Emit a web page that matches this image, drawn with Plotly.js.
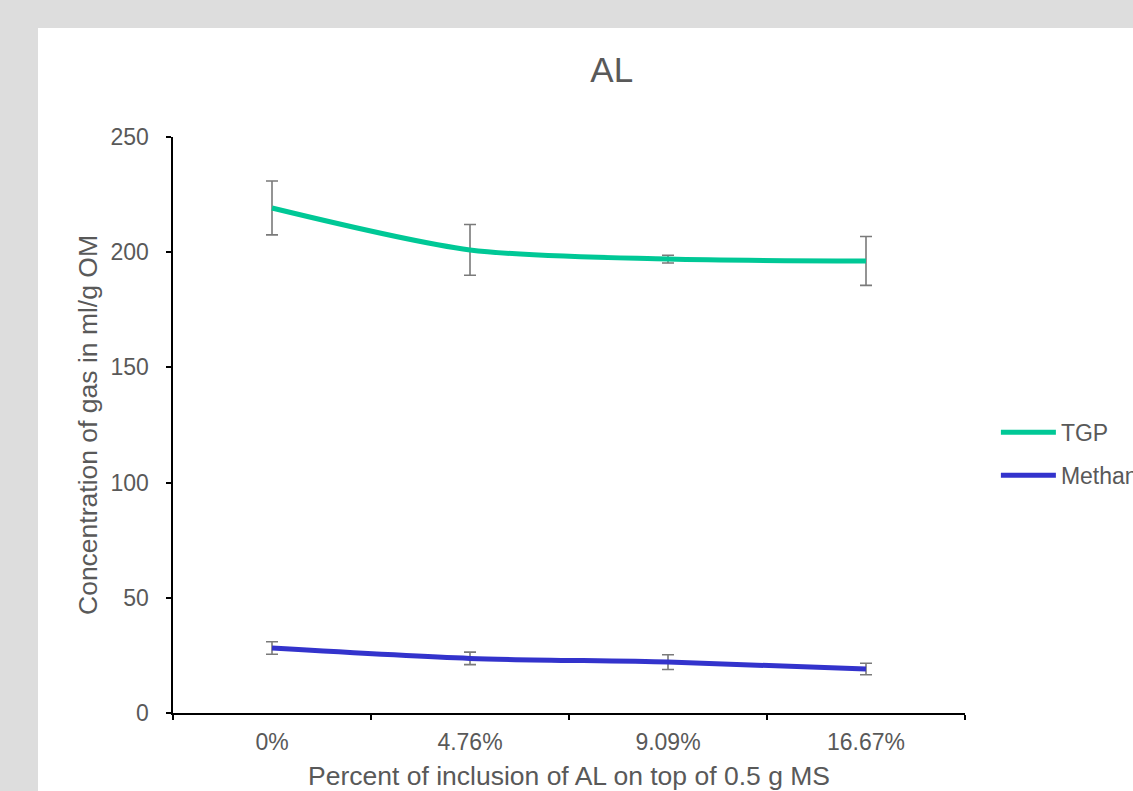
<!DOCTYPE html>
<html>
<head>
<meta charset="utf-8">
<script src="https://cdn.plot.ly/plotly-3.0.1.min.js"></script>
<style>
html,body{margin:0;padding:0;background:#dddddd;overflow:hidden;width:1133px;height:791px;}
#chart{position:absolute;left:38px;top:28px;width:1095px;height:763px;background:#fff;}
</style>
</head>
<body>
<div id="chart"></div>
<script>
const categories = ["0%", "4.76%", "9.09%", "16.67%"];
const tgpValues = [219.2, 201.0, 197.0, 196.2];
const tgpErrors = [11.7, 11.0, 1.7, 10.6];
const methaneValues = [28.2, 23.7, 22.1, 19.1];
const methaneErrors = [2.7, 2.7, 3.2, 2.5];
const yTicks = [0, 50, 100, 150, 200, 250];

const FONT = "Liberation Sans, Arial, sans-serif";
const GREY = "#595959";

const errStyle = {type: "data", visible: true, color: "#7a7a7a", thickness: 1.6, width: 6};

const traces = [
  {
    x: categories, y: tgpValues, name: "TGP", type: "scatter", mode: "lines",
    line: {color: "#00C896", width: 5, shape: "spline", smoothing: 0.8},
    error_y: Object.assign({array: tgpErrors}, errStyle),
    legendgroup: "a"
  },
  {
    x: categories, y: methaneValues, name: "Methane", type: "scatter", mode: "lines",
    line: {color: "#3333CC", width: 5, shape: "spline", smoothing: 0.8},
    error_y: Object.assign({array: methaneErrors}, errStyle),
    legendgroup: "b"
  }
];

const layout = {
  width: 1095, height: 763,
  paper_bgcolor: "#ffffff", plot_bgcolor: "#ffffff",
  margin: {l: 135, r: 168, t: 109, b: 78, autoexpand: false},
  font: {family: FONT, color: GREY, size: 23},
  title: {text: "AL", font: {family: FONT, size: 35, color: GREY},
          xref: "container", yref: "container", x: 0.524, y: 0.945, xanchor: "center", yanchor: "middle"},
  xaxis: {
    type: "category", range: [-0.5, 3.5],
    showline: true, linecolor: "#000", linewidth: 1.5,
    ticks: "outside", tickson: "boundaries", ticklen: 5, tickcolor: "#000", tickwidth: 1.5,
    showgrid: false, zeroline: false,
    tickfont: {family: FONT, size: 23, color: GREY},
    ticklabelstandoff: 8,
    title: {text: "Percent of inclusion of AL on top of 0.5 g MS", font: {family: FONT, size: 26.5, color: GREY}, standoff: 13},
    automargin: false
  },
  yaxis: {
    range: [0, 250], tickvals: yTicks,
    showline: true, linecolor: "#000", linewidth: 2.5,
    ticks: "outside", ticklen: 5, tickcolor: "#000", tickwidth: 2,
    showgrid: false, zeroline: false,
    tickfont: {family: FONT, size: 23, color: GREY},
    ticklabelstandoff: 12,
    title: {text: "Concentration of gas in ml/g OM", font: {family: FONT, size: 26.5, color: GREY}, standoff: 6},
    automargin: false
  },
  showlegend: true,
  legend: {
    x: 1.039, y: 0.45, xanchor: "left", yanchor: "middle",
    font: {family: FONT, size: 23, color: GREY},
    itemwidth: 55, tracegroupgap: 10, bgcolor: "rgba(0,0,0,0)"
  }
};

Plotly.newPlot("chart", traces, layout, {displayModeBar: false, staticPlot: true});
</script>
</body>
</html>
